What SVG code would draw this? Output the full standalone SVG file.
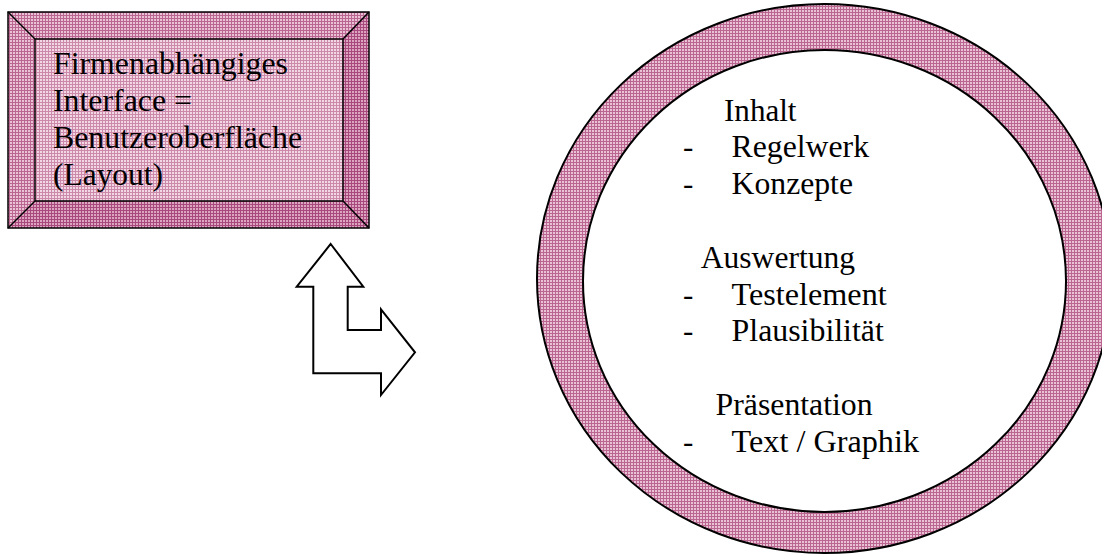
<svg xmlns="http://www.w3.org/2000/svg" width="1102" height="554" viewBox="0 0 1102 554">
  <style>
    .t { font-family: 'Liberation Serif', 'Times New Roman', serif; font-size: 31px; fill: #000; }
    .ln { fill: none; stroke: #000; stroke-width: 1.5; }
    .edge { stroke: #000; stroke-width: 2; }
  </style>
  <defs>
    <pattern id="patFace" width="3" height="3" patternUnits="userSpaceOnUse">
      <rect width="3" height="3" fill="#f2d8e4"/>
      <rect width="3" height="1" fill="#cc89aa"/>
      <rect width="1" height="3" fill="#cc89aa"/>
    </pattern>
    <pattern id="patMid" width="3" height="3" patternUnits="userSpaceOnUse">
      <rect width="3" height="3" fill="#eac2d5"/>
      <rect width="3" height="1" fill="#bb6691"/>
      <rect width="1" height="3" fill="#bb6691"/>
    </pattern>
    <pattern id="patDark" width="3" height="3" patternUnits="userSpaceOnUse">
      <rect width="3" height="3" fill="#dca6c0"/>
      <rect width="3" height="1" fill="#a8487c"/>
      <rect width="1" height="3" fill="#a8487c"/>
    </pattern>
  </defs>

  <g id="box">
    <polygon points="8,12 369,12 343,39 35,39" fill="url(#patMid)"/>
    <polygon points="8,12 35,39 35,201 8,228" fill="url(#patMid)"/>
    <polygon points="369,12 369,228 343,201 343,39" fill="url(#patDark)"/>
    <polygon points="8,228 35,201 343,201 369,228" fill="url(#patDark)"/>
    <rect x="35" y="39" width="308" height="162" fill="url(#patFace)"/>
    <rect x="8" y="12" width="361" height="216" class="ln" stroke-width="2"/>
    <rect x="35" y="39" width="308" height="162" class="ln"/>
    <line x1="8" y1="12" x2="35" y2="39" class="ln"/>
    <line x1="369" y1="12" x2="343" y2="39" class="ln"/>
    <line x1="8" y1="228" x2="35" y2="201" class="ln"/>
    <line x1="369" y1="228" x2="343" y2="201" class="ln"/>
    <text class="t" x="53" y="74" textLength="235" lengthAdjust="spacingAndGlyphs">Firmenabhängiges</text>
    <text class="t" x="53" y="111" textLength="139" lengthAdjust="spacingAndGlyphs">Interface =</text>
    <text class="t" x="53" y="148" textLength="249" lengthAdjust="spacingAndGlyphs">Benutzeroberfläche</text>
    <text class="t" x="53" y="185" textLength="110" lengthAdjust="spacingAndGlyphs">(Layout)</text>
  </g>

  <g id="connectors">
    <polygon points="330.7,244 363.3,286.7 347.7,286.7 347.7,330 381,330 381,309.3 415,352.3 381,395 381,373.3 313.3,373.3 313.3,286.7 296.7,286.7" fill="#fff" stroke="#000" stroke-width="2" stroke-linejoin="miter"/>
  </g>

  <g id="circle">
    <ellipse cx="824.5" cy="278.5" rx="287.5" ry="274.5" fill="url(#patMid)" class="edge"/>
    <ellipse cx="824.5" cy="281" rx="241.5" ry="231" fill="#fff" class="edge"/>
    <text class="t" x="724" y="121" textLength="72.5" lengthAdjust="spacingAndGlyphs">Inhalt</text>
    <text class="t" x="683" y="157">-</text>
    <text class="t" x="731.6" y="157" textLength="137.4" lengthAdjust="spacingAndGlyphs">Regelwerk</text>
    <text class="t" x="683" y="194">-</text>
    <text class="t" x="731.6" y="194" textLength="121.4" lengthAdjust="spacingAndGlyphs">Konzepte</text>
    <text class="t" x="700.8" y="268" textLength="154.2" lengthAdjust="spacingAndGlyphs">Auswertung</text>
    <text class="t" x="683" y="305">-</text>
    <text class="t" x="731.6" y="305" textLength="155.1" lengthAdjust="spacingAndGlyphs">Testelement</text>
    <text class="t" x="683" y="341">-</text>
    <text class="t" x="731.6" y="341" textLength="152.2" lengthAdjust="spacingAndGlyphs">Plausibilität</text>
    <text class="t" x="715.6" y="415" textLength="157" lengthAdjust="spacingAndGlyphs">Präsentation</text>
    <text class="t" x="683" y="452">-</text>
    <text class="t" x="731.6" y="452" textLength="187.4" lengthAdjust="spacingAndGlyphs">Text / Graphik</text>
  </g>
</svg>
